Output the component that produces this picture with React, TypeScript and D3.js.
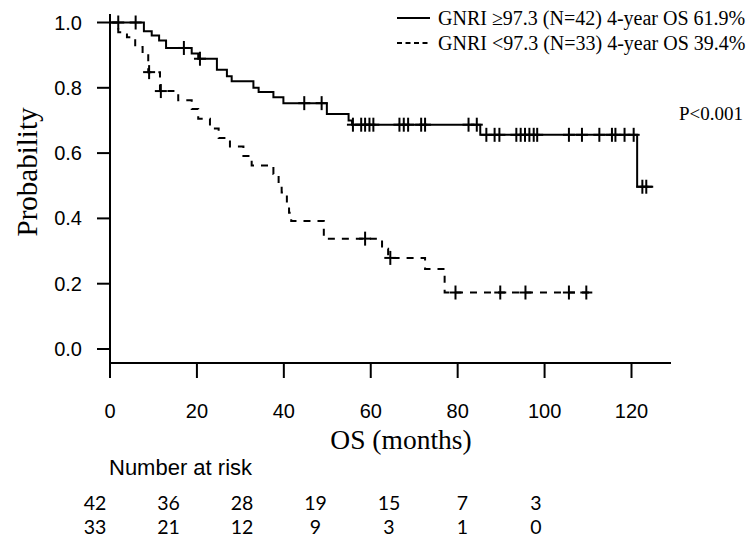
import React from "react";
import * as d3 from "d3";

// Kaplan-Meier steps (months, survival)
const highTimes = [0, 7.8, 9.6, 11.3, 12.9, 18.8, 20.3, 24.6, 26.9, 28.0, 33.0, 34.2, 37.6, 39.9, 49.9, 54.9, 55.7, 85.2, 121.3, 125];
const highSurv = [1, 0.973, 0.96, 0.945, 0.922, 0.905, 0.889, 0.855, 0.835, 0.82, 0.8, 0.787, 0.771, 0.753, 0.72, 0.7, 0.687, 0.656, 0.497, 0.497];
const highCensor = [1.9, 5.9, 17.0, 20.7, 44.7, 48.7, 55.9, 57.8, 58.7, 59.7, 60.6, 66.6, 67.6, 68.6, 71.6, 72.5, 82.5, 84.4, 86.6, 88.5, 89.6, 93.5, 94.5, 95.5, 96.5, 97.5, 98.3, 105.6, 108.6, 112.6, 115.5, 116.3, 118.4, 120.5, 122.5, 123.4];

const lowTimes = [0, 1.9, 3.9, 5.8, 7.5, 8.8, 11.5, 15.7, 18.8, 20.3, 23.0, 25.0, 27.6, 30.7, 32.6, 37.6, 38.8, 39.5, 40.7, 41.2, 41.7, 49.2, 62.6, 64.0, 72.5, 77.0, 111.2];
const lowSurv = [1, 0.97, 0.955, 0.925, 0.905, 0.848, 0.79, 0.762, 0.735, 0.705, 0.675, 0.646, 0.62, 0.591, 0.562, 0.536, 0.505, 0.479, 0.444, 0.417, 0.392, 0.338, 0.307, 0.279, 0.245, 0.173, 0.173];
const lowCensor = [9.0, 11.7, 58.7, 64.5, 79.5, 89.8, 95.6, 105.6, 109.6];

const xTicks = [0, 20, 40, 60, 80, 100, 120];
const yTicks = [0, 0.2, 0.4, 0.6, 0.8, 1.0];

const riskTimes = [0, 20, 40, 60, 80, 100, 120];
const riskHigh = [42, 36, 28, 19, 15, 7, 3];
const riskLow = [33, 21, 12, 9, 3, 1, 0];

const legendLabels = [
  "GNRI \u226597.3 (N=42) 4-year OS 61.9%",
  "GNRI <97.3 (N=33) 4-year OS 39.4%",
];

const W = 753;
const H = 542;
const serif = "'Liberation Serif', 'Times New Roman', serif";
const sans = "'Liberation Sans', Arial, sans-serif";

const x = d3.scaleLinear().domain([0, 120]).range([110, 631.5]);
const y = d3.scaleLinear().domain([0, 1]).range([349, 22.5]);
const riskX = d3.scaleLinear().domain([0, 120]).range([95, 536]);
const axisY = 363;

const stepAt = (times: number[], surv: number[], t: number) => {
  let v = surv[0];
  for (let i = 0; i < times.length; i++) if (times[i] <= t) v = surv[i];
  return v;
};

const line = d3
  .line<[number, number]>()
  .x((d) => x(d[0]))
  .y((d) => y(d[1]))
  .curve(d3.curveStepAfter);

const Censors = ({ times, surv, cens }: { times: number[]; surv: number[]; cens: number[] }) => (
  <g stroke="#000" strokeWidth={2}>
    {cens.map((t, i) => {
      const cx = x(t);
      const cy = y(stepAt(times, surv, t));
      return (
        <g key={i}>
          <line x1={cx} x2={cx} y1={cy - 7} y2={cy + 7} />
          <line x1={cx - 6} x2={cx + 6} y1={cy} y2={cy} />
        </g>
      );
    })}
  </g>
);

export default function App() {
  const highPts = highTimes.map((t, i) => [t, highSurv[i]] as [number, number]);
  const lowPts = lowTimes.map((t, i) => [t, lowSurv[i]] as [number, number]);

  return (
    <svg width={W} height={H} style={{ position: "absolute", left: 0, top: 0, background: "#fff" }}>
      {/* axes */}
      <g stroke="#000" strokeWidth={2}>
        <line x1={x(0)} x2={x(0)} y1={14} y2={axisY} />
        <line x1={x(0)} x2={671} y1={axisY} y2={axisY} />
        {yTicks.map((v) => (
          <line key={v} x1={97} x2={x(0)} y1={y(v)} y2={y(v)} />
        ))}
        {xTicks.map((v) => (
          <line key={v} x1={x(v)} x2={x(v)} y1={axisY} y2={axisY + 15} />
        ))}
      </g>
      <g fontFamily={sans} fontSize={20} fill="#000">
        {yTicks.map((v) => (
          <text key={v} x={82} y={y(v)} dy="0.35em" textAnchor="end">
            {v.toFixed(1)}
          </text>
        ))}
        {xTicks.map((v) => (
          <text key={v} x={x(v)} y={418} textAnchor="middle">
            {v}
          </text>
        ))}
      </g>
      <text
        transform="translate(37,172) rotate(-90)"
        textAnchor="middle"
        fontFamily={serif}
        fontSize={29}
      >
        Probability
      </text>
      <text x={401} y={449} textAnchor="middle" fontFamily={serif} fontSize={27.5}>
        OS (months)
      </text>

      {/* curves */}
      <path d={line(highPts) ?? ""} fill="none" stroke="#000" strokeWidth={2} />
      <path d={line(lowPts) ?? ""} fill="none" stroke="#000" strokeWidth={2} strokeDasharray="7,7" />
      <Censors times={highTimes} surv={highSurv} cens={highCensor} />
      <Censors times={lowTimes} surv={lowSurv} cens={lowCensor} />

      {/* legend */}
      <g stroke="#000" strokeWidth={2}>
        <line x1={397} x2={430} y1={18} y2={18} />
        <line x1={397} x2={430} y1={43} y2={43} strokeDasharray="5,3.5" />
      </g>
      <g fontFamily={serif} fontSize={20}>
        {legendLabels.map((s, i) => (
          <text key={i} x={438} y={25 + i * 25}>
            {s}
          </text>
        ))}
      </g>
      <text x={679} y={120} fontFamily={serif} fontSize={19}>
        P&lt;0.001
      </text>

      {/* number at risk */}
      <text x={109} y={475} fontFamily={sans} fontSize={22}>
        Number at risk
      </text>
      <g fontFamily="Lato, 'Liberation Sans', sans-serif" fontSize={19.5}>
        {riskTimes.map((t, i) => (
          <text key={"h" + i} x={riskX(t)} y={510} textAnchor="middle">
            {riskHigh[i]}
          </text>
        ))}
        {riskTimes.map((t, i) => (
          <text key={"l" + i} x={riskX(t)} y={534} textAnchor="middle">
            {riskLow[i]}
          </text>
        ))}
      </g>
    </svg>
  );
}
